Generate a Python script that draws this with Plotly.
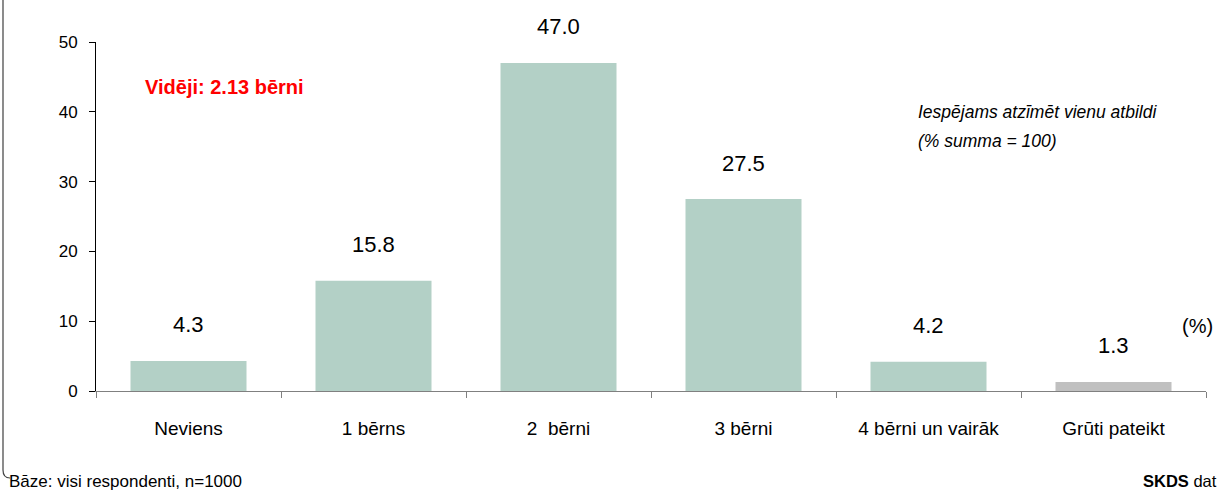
import plotly.graph_objects as go

categories = ["Neviens", "1 bērns", "2  bērni", "3 bērni", "4 bērni un vairāk", "Grūti pateikt"]
values = [4.3, 15.8, 47.0, 27.5, 4.2, 1.3]
bar_colors = ["#b3d0c6", "#b3d0c6", "#b3d0c6", "#b3d0c6", "#b3d0c6", "#c0c0c0"]
y_ticks = [0, 10, 20, 30, 40, 50]

FONT = "Liberation Sans, Arial, sans-serif"

fig = go.Figure()
fig.add_trace(go.Bar(x=categories, y=values, marker=dict(color=bar_colors, line=dict(width=0)),
                     hoverinfo="skip"))

W, H = 1220, 490
L, R, T, B = 96, 14, 42, 99
pw, ph = W - L - R, H - T - B

def px(x):
    return (x - L) / pw

def py(y):
    return (H - B - y) / ph

annotations = []
for c, v in zip(categories, values):
    annotations.append(dict(x=c, y=v, xref="x", yref="y", text=f"{v:.1f}", showarrow=False,
                            yanchor="middle", yshift=36,
                            font=dict(family=FONT, size=22, color="#000000")))

annotations += [
    dict(x=px(224), y=py(87), xref="paper", yref="paper", text="<b>Vidēji: 2.13 bērni</b>",
         showarrow=False, xanchor="center", yanchor="middle",
         font=dict(family=FONT, size=20, color="#ff0000")),
    dict(x=px(916), y=py(112), xref="paper", yref="paper", text="<i>Iespējams atzīmēt vienu atbildi</i>",
         showarrow=False, xanchor="left", yanchor="middle",
         font=dict(family=FONT, size=17.5, color="#000000")),
    dict(x=px(916), y=py(141), xref="paper", yref="paper", text="<i>(% summa = 100)</i>",
         showarrow=False, xanchor="left", yanchor="middle",
         font=dict(family=FONT, size=17.5, color="#000000")),
    dict(x=px(1197), y=py(326), xref="paper", yref="paper", text="(%)",
         showarrow=False, xanchor="center", yanchor="middle",
         font=dict(family=FONT, size=20, color="#000000")),
    dict(x=px(7), y=py(481), xref="paper", yref="paper", text="Bāze: visi respondenti, n=1000",
         showarrow=False, xanchor="left", yanchor="middle",
         font=dict(family=FONT, size=17, color="#000000")),
    dict(x=px(1219), y=py(481), xref="paper", yref="paper", text="<b>SKDS</b> dat",
         showarrow=False, xanchor="right", yanchor="middle",
         font=dict(family=FONT, size=16.5, color="#000000")),
]

xl = px(3)
frame_path = f"M {xl},{py(0)} L {xl},{py(470)} Q {xl},{py(478)} {px(10)},{py(478)}"

fig.update_layout(
    width=W, height=H,
    margin=dict(l=L, r=R, t=T, b=B),
    paper_bgcolor="#ffffff", plot_bgcolor="#ffffff",
    showlegend=False,
    bargap=0.373,
    font=dict(family=FONT, color="#000000"),
    annotations=annotations,
    shapes=[dict(type="path", path=frame_path, xref="paper", yref="paper",
                 line=dict(color="#404040", width=1.2))],
    xaxis=dict(showgrid=False, zeroline=False, showline=True, linecolor="#808080", linewidth=1,
               ticks="outside", tickson="boundaries", ticklen=6, tickcolor="#808080",
               tickfont=dict(family=FONT, size=19, color="#000000"), ticklabelstandoff=20,
               fixedrange=True),
    yaxis=dict(range=[0, 50], tickvals=y_ticks, showgrid=False, zeroline=False, showline=True,
               linecolor="#000000", linewidth=1, ticks="outside", ticklen=6, tickcolor="#000000",
               tickfont=dict(family=FONT, size=17, color="#000000"), ticklabelstandoff=8,
               fixedrange=True),
)

fig.write_html("out.html", config={"displayModeBar": False},
               post_script="document.body.style.margin='0px';document.body.style.overflow='hidden';")
